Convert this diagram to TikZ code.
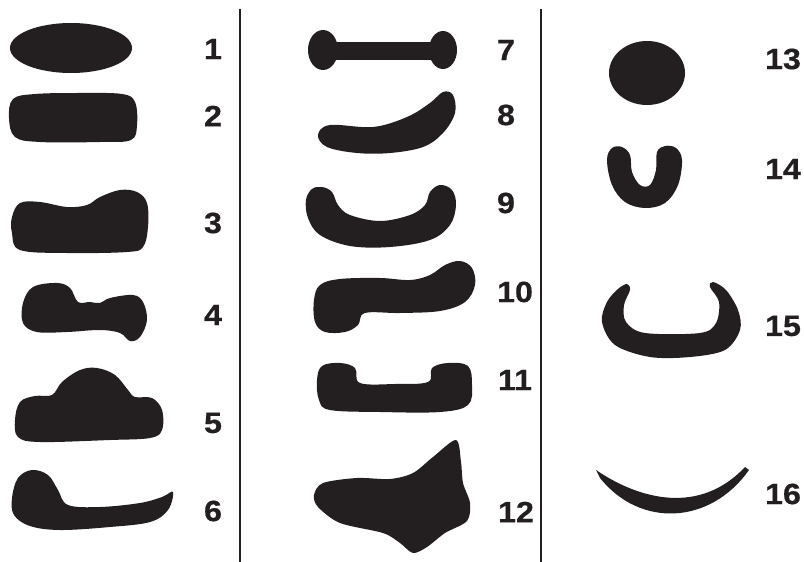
\documentclass[tikz,border=0pt]{standalone}
\usepackage{fontspec}
\setmainfont{Liberation Sans}
\newfontfamily\numfont[FakeStretch=1.1,FakeBold=0.6]{Liberation Sans Bold}
\usepackage{tikz}

\definecolor{ink}{HTML}{231F20}

\begin{document}
\begin{tikzpicture}[
  x=0.03cm, y=-0.03cm,
  blob/.style={fill=ink},
  rule/.style={draw=ink, line width=2.4pt},
  num/.style={font=\numfont\fontsize{25}{28}\selectfont, text=ink, inner sep=0pt}
]
\useasboundingbox (0,0) rectangle (804,562);

\draw[rule] (240,9) -- (240,562);
\draw[rule] (541,9) -- (541,562);

% column 1
\fill[blob] (71,48) ellipse [x radius=61, y radius=25];
\fill[blob] plot[smooth cycle, tension=0.6] coordinates {(9,118) (13,99) (35,94) (80,93) (122,94) (135,102) (137,125) (131,140) (100,142) (40,142) (15,137)};
\fill[blob] plot[smooth cycle, tension=0.6] coordinates {(12,217) (20,203) (40,202) (67,207) (87,205) (100,197) (120,190) (137,192) (147,203) (148,227) (143,247) (127,252) (67,253) (20,250) (12,233)};
\fill[blob] plot[smooth cycle, tension=0.6] coordinates {(23,303) (33,287) (57,283) (70,288) (78,302) (90,302) (100,303) (110,298) (133,295) (143,302) (147,320) (140,337) (130,341) (120,333) (100,330) (67,332) (37,332) (23,323)};
\fill[blob] plot[smooth cycle, tension=0.6] coordinates {(15,420) (20,402) (35,396) (52,395) (62,382) (80,370) (97,368) (115,375) (128,390) (135,397) (152,398) (162,410) (162,430) (150,438) (110,440) (40,442) (18,437)};
\fill[blob] plot[smooth cycle, tension=0.6] coordinates {(12,498) (18,478) (32,470) (48,475) (58,490) (68,505) (100,507) (140,503) (162,497) (173,492) (168,510) (150,522) (110,527) (60,530) (30,526) (14,515)};

\node[num] (n1) at (213,49) {1};
\node[num] (n2) at (213,116) {2};
\node[num] (n3) at (213,223) {3};
\node[num] (n4) at (213,315) {4};
\node[num] (n5) at (213,423) {5};
\node[num] (n6) at (213,511) {6};

% column 2
\fill[blob] (323,50) ellipse [x radius=15, y radius=20];
\fill[blob] (443,50) ellipse [x radius=14, y radius=19];
\fill[blob] (333,42) rectangle (433,60);
\fill[blob] plot[smooth cycle, tension=0.6] coordinates {(318,135) (330,125) (373,127) (407,117) (430,103) (443,92) (453,95) (455,113) (443,133) (423,147) (390,153) (357,153) (327,147)};
\fill[blob] plot[smooth cycle, tension=0.6] coordinates {(306,200) (312,189) (322,187) (332,192) (338,205) (350,215) (380,221) (410,215) (425,205) (430,192) (440,185) (452,190) (456,205) (450,225) (430,240) (390,247) (350,246) (320,235) (308,218)};
\fill[blob] plot[smooth cycle, tension=0.6] coordinates {(314,300) (320,285) (340,279) (380,278) (410,280) (430,275) (445,265) (460,261) (472,268) (475,285) (465,302) (440,311) (400,313) (365,313) (358,325) (345,332) (325,332) (315,322)};
\fill[blob] plot[smooth cycle, tension=0.6] coordinates {(317,380) (322,366) (340,363) (355,368) (360,383) (395,384) (428,382) (432,368) (448,363) (468,366) (472,385) (468,405) (440,412) (380,412) (330,410) (319,400)};
\fill[blob] plot[smooth cycle, tension=0.5] coordinates {(314,495) (323,483) (357,478) (390,479) (413,473) (433,457) (456,440) (461,462) (463,483) (470,503) (467,521) (445,533) (427,547) (413,553) (400,543) (383,533) (340,523) (318,507)};

\node[num] (n7) at (506,50) {7};
\node[num] (n8) at (506,115) {8};
\node[num] (n9) at (506,203) {9};
\node[num] (n10) at (515,292) {10};
\node[num] (n11) at (515,380) {11};
\node[num] (n12) at (516,512) {12};

% column 3
\fill[blob] (647,73) ellipse [x radius=38, y radius=32];
\fill[blob] plot[smooth cycle, tension=0.6] coordinates {(607,160) (612,148) (622,147) (630,155) (632,172) (640,185) (650,185) (656,170) (657,152) (665,146) (676,148) (682,160) (678,185) (665,203) (645,208) (625,202) (612,185)};
\fill[blob] plot[smooth cycle, tension=0.55] coordinates {(627,284) (630,290) (624,305) (626,322) (645,333) (700,333) (716,323) (719,302) (710,287) (713,282) (726,290) (738,310) (740,330) (725,350) (690,357) (650,357) (615,345) (602,322) (607,302) (618,289)};
\fill[blob] (596,470) .. controls (640,500) and (700,515) .. (745,467)
  -- (749,470) .. controls (710,525) and (640,528) .. (600,478) -- cycle;

\node[num] (n13) at (783,59) {13};
\node[num] (n14) at (783,169) {14};
\node[num] (n15) at (783,326) {15};
\node[num] (n16) at (783,494) {16};
\end{tikzpicture}
\end{document}
